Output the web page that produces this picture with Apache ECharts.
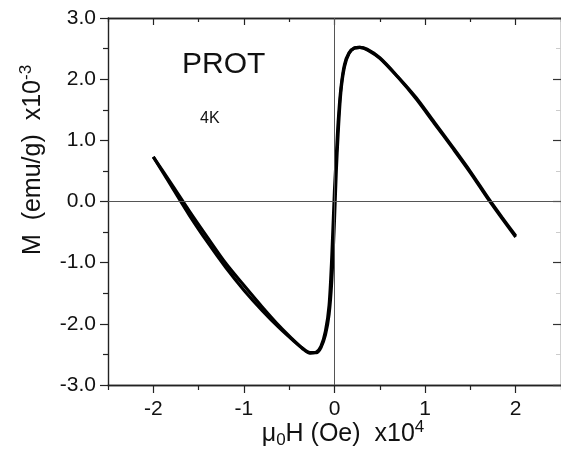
<!DOCTYPE html>
<html>
<head>
<meta charset="utf-8">
<script src="https://cdn.jsdelivr.net/npm/echarts@6/dist/echarts.min.js"></script>
<style>
  html, body { margin: 0; padding: 0; background: #fff; }
  #chart { width: 561px; height: 455px; }
</style>
</head>
<body>
<div id="chart"></div>
<script>
// Applied field, in units of 10^4 Oe
const fieldUp = [-2.0, -1.8, -1.6, -1.4, -1.2, -1.0, -0.8, -0.6, -0.45, -0.35, -0.27, -0.2, -0.15, -0.1, -0.06, -0.03, 0, 0.02, 0.04, 0.07, 0.11, 0.16, 0.22, 0.28, 0.36, 0.5, 0.7, 0.9, 1.1, 1.3, 1.5, 1.7, 1.85, 2.0];
// Magnetisation on the ascending sweep, in units of 10^-3 emu/g
const momentUp = [0.73, 0.25, -0.23, -0.67, -1.08, -1.45, -1.78, -2.08, -2.28, -2.40, -2.47, -2.47, -2.39, -2.18, -1.85, -1.30, -0.30, 0.50, 1.10, 1.78, 2.20, 2.42, 2.51, 2.52, 2.48, 2.34, 2.03, 1.68, 1.28, 0.88, 0.47, 0.03, -0.28, -0.58];

// Descending sweep
const fieldDown = [2.0, 1.85, 1.7, 1.5, 1.3, 1.1, 0.9, 0.7, 0.5, 0.36, 0.28, 0.22, 0.16, 0.11, 0.07, 0.04, 0.02, 0, -0.03, -0.06, -0.1, -0.15, -0.2, -0.27, -0.35, -0.45, -0.6, -0.8, -1.0, -1.2, -1.4, -1.6, -1.8, -2.0];
const momentDown = [-0.56, -0.26, 0.05, 0.49, 0.90, 1.30, 1.70, 2.04, 2.35, 2.49, 2.52, 2.51, 2.43, 2.24, 1.85, 1.30, 0.75, 0.20, -0.90, -1.70, -2.12, -2.37, -2.46, -2.48, -2.41, -2.27, -2.05, -1.72, -1.37, -1.01, -0.59, -0.16, 0.29, 0.73];

const xMajor = [-2, -1, 0, 1, 2];
const xMinor = [-2.5, -1.5, -0.5, 0.5, 1.5, 2.5];

const pairs = (xs, ys) => xs.map((x, i) => [x, ys[i]]);

const chart = echarts.init(document.getElementById('chart'), null, { renderer: 'canvas' });

const frame = { show: true, onZero: false, lineStyle: { color: '#222', width: 1.4 } };
const font = 'Liberation Sans, Arial, sans-serif';

function xAxisDef(position, ticks, len, inside, opts) {
  return Object.assign({
    type: 'value', position, min: -2.5, max: 2.5,
    axisLine: frame,
    axisTick: { show: true, customValues: ticks, length: len, inside, lineStyle: { color: '#222', width: 1.2 } },
    axisLabel: { show: false },
    splitLine: { show: false }
  }, opts || {});
}

chart.setOption({
  animation: false,
  backgroundColor: '#fff',
  grid: { left: 108, top: 18, width: 456, height: 367, containLabel: false },
  xAxis: [
    xAxisDef('bottom', xMajor, 8, false, {
      axisLabel: { show: true, customValues: xMajor, fontSize: 21, color: '#111', fontFamily: font, margin: 14,
        formatter: v => String(v) }
    }),
    xAxisDef('bottom', xMinor, 5, false),
    xAxisDef('top', xMajor, 7, true),
    xAxisDef('top', xMinor, 4, true)
  ],
  yAxis: [
    {
      type: 'value', position: 'left', min: -3, max: 3, interval: 1,
      axisLine: frame,
      axisTick: { show: true, length: 8, inside: false, lineStyle: { color: '#222', width: 1.2 } },
      minorTick: { show: true, splitNumber: 2, length: 5, lineStyle: { color: '#222', width: 1.2 } },
      axisLabel: { fontSize: 21, color: '#111', fontFamily: font, margin: 12, formatter: v => v.toFixed(1) },
      splitLine: { show: false }
    },
    {
      type: 'value', position: 'right', min: -3, max: 3, interval: 1,
      axisLine: frame,
      axisTick: { show: true, length: 8, inside: true, lineStyle: { color: '#333', width: 1.2 } },
      minorTick: { show: true, splitNumber: 2, length: 5, lineStyle: { color: '#ccc', width: 1 } },
      axisLabel: { show: false },
      splitLine: { show: false }
    }
  ],
  series: [
    {
      type: 'line', xAxisIndex: 0, yAxisIndex: 0,
      data: pairs(fieldUp, momentUp),
      smooth: 0.3, showSymbol: false,
      lineStyle: { color: '#000', width: 3.1 },
      markLine: {
        silent: true, symbol: 'none', label: { show: false },
        lineStyle: { color: '#555', width: 1, type: 'solid' },
        data: [{ xAxis: 0 }, { yAxis: 0 }]
      },
      z: 3
    },
    {
      type: 'line', xAxisIndex: 0, yAxisIndex: 0,
      data: pairs(fieldDown, momentDown),
      smooth: 0.3, showSymbol: false,
      lineStyle: { color: '#000', width: 3.1 },
      z: 3
    }
  ],
  graphic: [
    {
      type: 'text', left: 182, top: 50,
      style: { text: 'PROT', fontSize: 30, fontFamily: font, fill: '#111' }
    },
    {
      type: 'text', left: 200, top: 111,
      style: { text: '4K', fontSize: 16, fontFamily: font, fill: '#111' }
    },
    {
      type: 'text', x: 343, y: 434,
      style: {
        text: '{n|μ}{s|0}{n|H (Oe)  x10}{p|4}',
        align: 'center', verticalAlign: 'middle', fill: '#111',
        rich: {
          n: { fontSize: 25, lineHeight: 30, fontFamily: font, fill: '#111' },
          s: { fontSize: 17, lineHeight: 17, fontFamily: font, fill: '#111', verticalAlign: 'bottom' },
          p: { fontSize: 17, lineHeight: 17, fontFamily: font, fill: '#111', verticalAlign: 'top' }
        }
      }
    },
    {
      type: 'text', x: 33, y: 160, rotation: Math.PI / 2,
      style: {
        text: '{n|M  (emu/g)  x10}{p|-3}',
        align: 'center', verticalAlign: 'middle', fill: '#111',
        rich: {
          n: { fontSize: 25, lineHeight: 30, fontFamily: font, fill: '#111' },
          p: { fontSize: 17, lineHeight: 17, fontFamily: font, fill: '#111', verticalAlign: 'top' }
        }
      }
    }
  ]
});
</script>
</body>
</html>
